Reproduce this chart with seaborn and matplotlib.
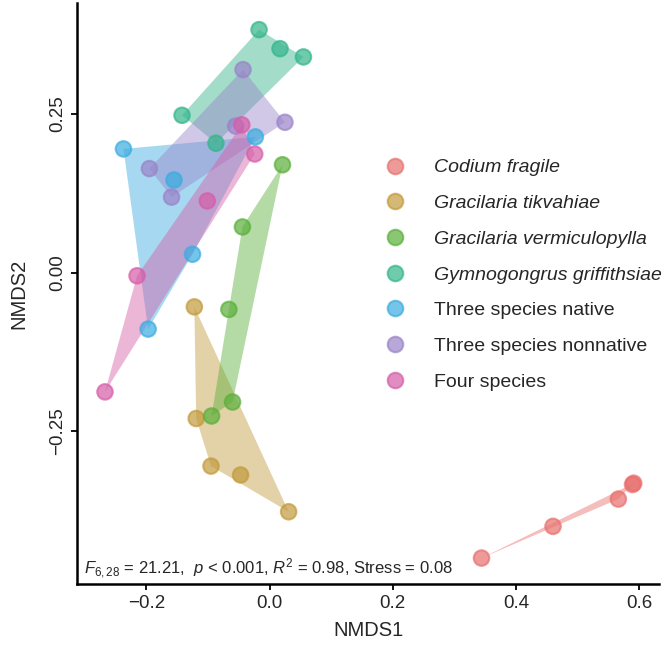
import matplotlib
matplotlib.use('Agg')
import matplotlib.pyplot as plt
import numpy as np
import pandas as pd
import seaborn as sns

# NMDS scores, 5 samples per treatment
groups = ['Codium fragile', 'Gracilaria tikvahiae', 'Gracilaria vermiculopylla',
          'Gymnogongrus griffithsiae', 'Three species native',
          'Three species nonnative', 'Four species']
italic_groups = groups[:4]
colors = ['#E8706E', '#C29A3C', '#5AAF3A', '#33B58B', '#3AACE0', '#9A83C9', '#D65DA8']

codium_x = [0.344, 0.460, 0.566, 0.589, 0.591]
codium_y = [-0.450, -0.400, -0.357, -0.334, -0.332]
tikv_x = [-0.122, -0.119, -0.095, -0.047, 0.031]
tikv_y = [-0.054, -0.230, -0.305, -0.319, -0.377]
verm_x = [0.021, -0.044, -0.066, -0.060, -0.094]
verm_y = [0.170, 0.072, -0.058, -0.204, -0.226]
gymno_x = [-0.017, 0.017, 0.055, -0.142, -0.087]
gymno_y = [0.383, 0.353, 0.340, 0.248, 0.204]
native_x = [-0.237, -0.155, -0.023, -0.125, -0.197]
native_y = [0.195, 0.146, 0.214, 0.029, -0.089]
nonnat_x = [-0.043, 0.025, -0.055, -0.195, -0.159]
nonnat_y = [0.320, 0.237, 0.231, 0.164, 0.119]
four_x = [-0.045, -0.024, -0.101, -0.215, -0.267]
four_y = [0.233, 0.187, 0.113, -0.005, -0.188]

xs = [codium_x, tikv_x, verm_x, gymno_x, native_x, nonnat_x, four_x]
ys = [codium_y, tikv_y, verm_y, gymno_y, native_y, nonnat_y, four_y]

df = pd.DataFrame({
    'NMDS1': sum(xs, []),
    'NMDS2': sum(ys, []),
    'Treatment': sum([[g] * len(x) for g, x in zip(groups, xs)], []),
})


def convex_hull(pts):
    # monotone chain
    pts = sorted(set(map(tuple, pts)))
    if len(pts) < 3:
        return pts

    def cross(o, a, b):
        return (a[0] - o[0]) * (b[1] - o[1]) - (a[1] - o[1]) * (b[0] - o[0])

    lower, upper = [], []
    for p in pts:
        while len(lower) >= 2 and cross(lower[-2], lower[-1], p) <= 0:
            lower.pop()
        lower.append(p)
    for p in reversed(pts):
        while len(upper) >= 2 and cross(upper[-2], upper[-1], p) <= 0:
            upper.pop()
        upper.append(p)
    return lower[:-1] + upper[:-1]


sns.set_style('ticks')
plt.rcParams['font.family'] = ['Liberation Sans', 'DejaVu Sans']
plt.rcParams['mathtext.fontset'] = 'custom'
plt.rcParams['mathtext.rm'] = 'Liberation Sans'
plt.rcParams['mathtext.it'] = 'Liberation Sans:italic'

fig = plt.figure(figsize=(6.65, 6.57), dpi=100)
ax = fig.add_axes([0.1162, 0.111, 0.8748, 0.8844])

palette = dict(zip(groups, colors))

# hulls
for g in groups:
    sub = df[df['Treatment'] == g]
    hull = np.array(convex_hull(sub[['NMDS1', 'NMDS2']].values))
    ax.fill(hull[:, 0], hull[:, 1], color=palette[g], alpha=0.45, lw=0, zorder=1)

sns.scatterplot(data=df, x='NMDS1', y='NMDS2', hue='Treatment', hue_order=groups,
                palette=palette, s=125, alpha=0.7, edgecolor=None, linewidth=1.5,
                ax=ax, zorder=3)
for coll in ax.collections[len(groups):]:
    coll.set_edgecolors(coll.get_facecolors())

ax.set_xlim(-0.312, 0.632)
ax.set_ylim(-0.491, 0.425)
ax.set_xticks([-0.2, 0.0, 0.2, 0.4, 0.6])
ax.set_xticklabels(['\u22120.2', '0.0', '0.2', '0.4', '0.6'])
ax.set_yticks([-0.25, 0.0, 0.25])
ax.set_yticklabels(['\u22120.25', '0.00', '0.25'], rotation=90, va='center')
ax.tick_params(axis='both', labelsize=13.5, length=4, width=1.3, color='black', pad=4)
for side in ['top', 'right']:
    ax.spines[side].set_visible(False)
for side in ['left', 'bottom']:
    ax.spines[side].set_linewidth(1.8)
    ax.spines[side].set_color('black')

ax.set_xlabel('NMDS1', fontsize=14.5, labelpad=6)
ax.set_ylabel('NMDS2', fontsize=14.5, labelpad=15)

ax.text(0.012, 0.006,
        r'$F_{6,28}$ = 21.21,  $p$ < 0.001, $R^2$ = 0.98, Stress = 0.08',
        transform=ax.transAxes, fontsize=12, ha='left', va='bottom')

leg = ax.legend(loc='upper left', bbox_to_anchor=(0.482, 0.762), frameon=False,
                fontsize=14, labelspacing=0.93, handletextpad=1.0, markerscale=1.0,
                title=None)
for txt in leg.get_texts():
    if txt.get_text() in italic_groups:
        txt.set_fontstyle('italic')
for h in leg.legend_handles:
    h.set_alpha(0.7)

fig.savefig('out.png', dpi=100)
